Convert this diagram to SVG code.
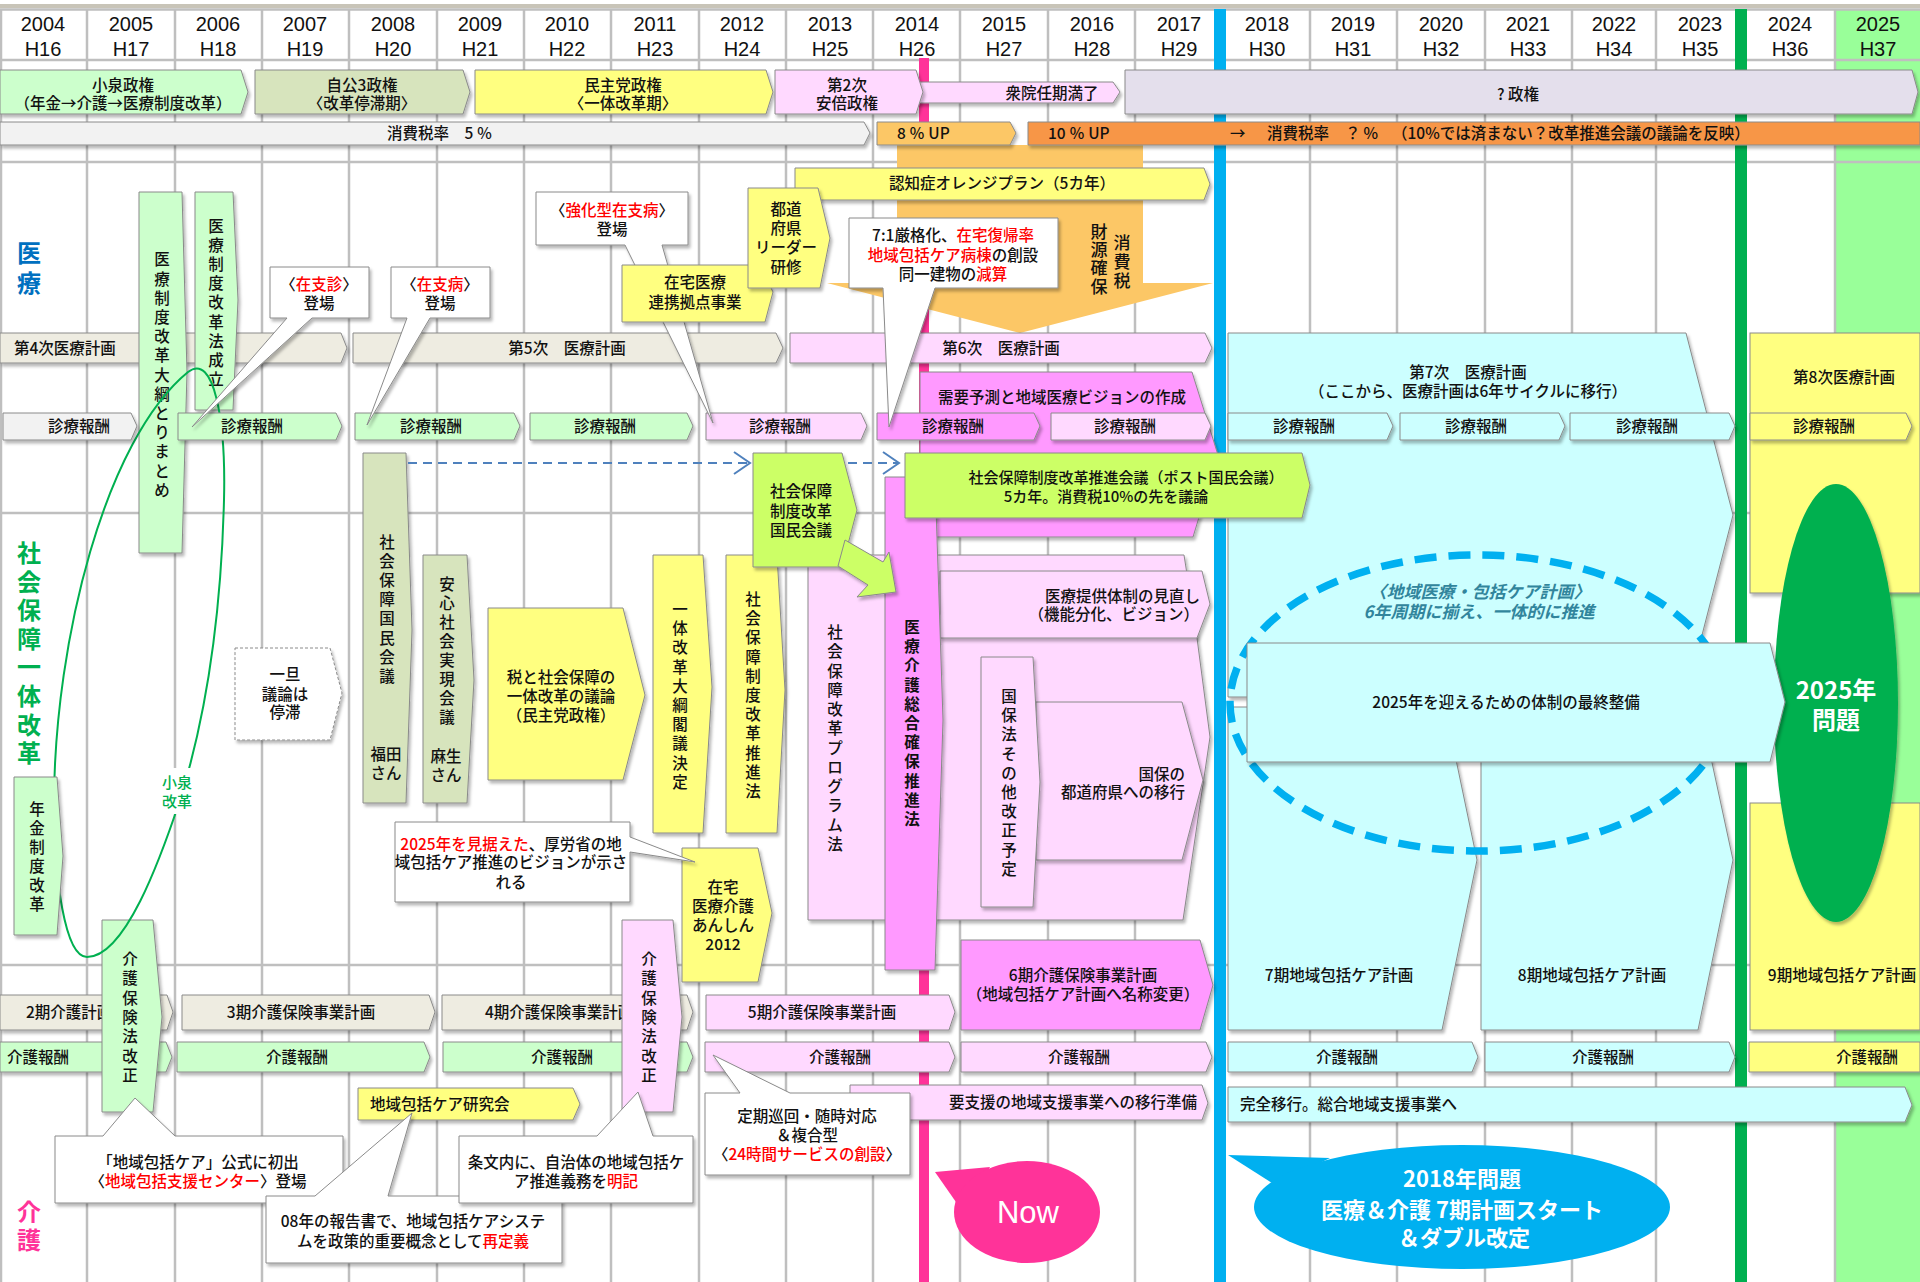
<svg xmlns="http://www.w3.org/2000/svg" width="1920" height="1282" viewBox="0 0 1920 1282">
<defs>
<filter id="sh" filterUnits="userSpaceOnUse" x="-10" y="-10" width="1950" height="1310">
<feDropShadow dx="2" dy="3" stdDeviation="1.6" flood-color="#000" flood-opacity="0.28"/>
</filter>
<marker id="ah" markerWidth="20" markerHeight="24" refX="17" refY="12" orient="auto" markerUnits="userSpaceOnUse">
<polyline points="1,1 17,12 1,23" fill="none" stroke="#4f81bd" stroke-width="2"/>
</marker>
</defs>
<style>
text { font-family: "Noto Sans CJK JP", "Noto Sans", sans-serif; font-size: 15.5px; font-weight: 500; fill: #111; }
.m { text-anchor: middle; }
.e { text-anchor: end; }
.red { fill: #ff0000; }
.yr { font-family: "Liberation Sans", Arial, sans-serif; font-size: 20px; font-weight: normal; text-anchor: middle; fill: #111; }
.b { stroke: #8a8a8a; stroke-width: 1; filter: url(#sh); }
.g { fill: #ccffcc; } .k { fill: #d7e4bd; } .bg { fill: #eeece1; } .lg { fill: #f2f2f2; }
.yl { fill: #ffff80; } .p { fill: #ffd9ff; } .mg { fill: #ff99ff; } .l { fill: #ccff66; }
.cy { fill: #ccffff; } .lv { fill: #e4dfec; } .w { fill: #ffffff; } .or { fill: #fcc766; }
.grid { stroke: #bfbfbf; stroke-width: 2.5; fill: none; }
.sec { font-size: 24px; font-weight: bold; text-anchor: middle; }
.wt { fill: #ffffff; font-weight: bold; text-anchor: middle; }
</style>

<rect x="0" y="0" width="1920" height="1282" fill="#ffffff"/>
<g id="grid">
<rect x="1835" y="9" width="85" height="1273" fill="#99ff99"/>
<line x1="0" y1="6" x2="1920" y2="6" stroke="#c8c4b8" stroke-width="4"/>
<path class="grid" d="M1 9V1282M87 9V1282M175 9V1282M262 9V1282M349 9V1282M437 9V1282M524 9V1282M611 9V1282M699 9V1282M786 9V1282M873 9V1282M960 9V1282M1048 9V1282M1135 9V1282M1222 9V1282M1310 9V1282M1397 9V1282M1485 9V1282M1572 9V1282M1656 9V1282M1741 9V1282M1835 9V1282"/>
<path class="grid" d="M0 9.5H1920M0 60H1920M0 162H1920M0 513H1920M0 965H1920"/>
</g>
<g id="header">
<text class="yr" x="43" y="31">2004</text><text class="yr" x="43" y="56">H16</text>
<text class="yr" x="131" y="31">2005</text><text class="yr" x="131" y="56">H17</text>
<text class="yr" x="218" y="31">2006</text><text class="yr" x="218" y="56">H18</text>
<text class="yr" x="305" y="31">2007</text><text class="yr" x="305" y="56">H19</text>
<text class="yr" x="393" y="31">2008</text><text class="yr" x="393" y="56">H20</text>
<text class="yr" x="480" y="31">2009</text><text class="yr" x="480" y="56">H21</text>
<text class="yr" x="567" y="31">2010</text><text class="yr" x="567" y="56">H22</text>
<text class="yr" x="655" y="31">2011</text><text class="yr" x="655" y="56">H23</text>
<text class="yr" x="742" y="31">2012</text><text class="yr" x="742" y="56">H24</text>
<text class="yr" x="830" y="31">2013</text><text class="yr" x="830" y="56">H25</text>
<text class="yr" x="917" y="31">2014</text><text class="yr" x="917" y="56">H26</text>
<text class="yr" x="1004" y="31">2015</text><text class="yr" x="1004" y="56">H27</text>
<text class="yr" x="1092" y="31">2016</text><text class="yr" x="1092" y="56">H28</text>
<text class="yr" x="1179" y="31">2017</text><text class="yr" x="1179" y="56">H29</text>
<text class="yr" x="1267" y="31">2018</text><text class="yr" x="1267" y="56">H30</text>
<text class="yr" x="1353" y="31">2019</text><text class="yr" x="1353" y="56">H31</text>
<text class="yr" x="1441" y="31">2020</text><text class="yr" x="1441" y="56">H32</text>
<text class="yr" x="1528" y="31">2021</text><text class="yr" x="1528" y="56">H33</text>
<text class="yr" x="1614" y="31">2022</text><text class="yr" x="1614" y="56">H34</text>
<text class="yr" x="1700" y="31">2023</text><text class="yr" x="1700" y="56">H35</text>
<text class="yr" x="1790" y="31">2024</text><text class="yr" x="1790" y="56">H36</text>
<text class="yr" x="1878" y="31">2025</text><text class="yr" x="1878" y="56">H37</text>
</g>
<g id="timelines">
<rect x="919" y="58" width="10" height="1224" fill="#ff3399"/>
<rect x="1214" y="9" width="12" height="1273" fill="#00b0f0"/>
<rect x="1735" y="9" width="12" height="1273" fill="#00b050"/>
</g>

<g id="n-koizumi"><polygon class="b g" points="0,70 241,70 248,92 241,114 0,114"/><text class="m" x="123" y="91">小泉政権</text><text class="m" x="123" y="109">（年金→介護→医療制度改革）</text></g>
<g id="n-jiko"><polygon class="b k" points="255,70 463,70 470,92 463,114 255,114"/><text class="m" x="362" y="91">自公3政権</text><text class="m" x="362" y="109">〈改革停滞期〉</text></g>
<g id="n-minshu"><polygon class="b yl" points="475,70 766,70 773,92 766,114 475,114"/><text class="m" x="623" y="91">民主党政権</text><text class="m" x="623" y="109">〈一体改革期〉</text></g>
<g id="n-shuin"><polygon class="b p" points="915,82 1113,82 1120,92 1113,103 915,103"/><text class="m" x="1052" y="99">衆院任期満了</text></g>
<g id="n-abe"><polygon class="b p" points="775,70 916,70 923,92 916,114 775,114"/><text class="m" x="847" y="91">第2次</text><text class="m" x="847" y="109">安倍政権</text></g>
<g id="n-q"><polygon class="b lv" points="1125,70 1912,70 1918,92 1912,114 1125,114"/><text x="1497" y="100">? 政権</text></g>

<g id="n-taxarrow"><polygon class="or" points="897,145 1143,145 1143,283 1213,283 1020,333 827,283 897,283"/></g>
<g id="n-tax5"><polygon class="b lg" points="0,122 864,122 870,133 864,145 0,145"/><text x="387" y="139">消費税率　5 ％</text></g>
<g id="n-tax8"><polygon class="b or" points="877,122 1010,122 1016,133 1010,145 877,145"/><text x="897" y="139">8 ％ UP</text></g>
<g id="n-tax10"><polygon class="b" fill="#f79646" points="1028,122 1920,122 1920,145 1028,145"/><text x="1048" y="139">10 ％ UP</text><text x="1230" y="139">→</text><text x="1267" y="139">消費税率</text><text x="1345" y="139">？</text><text x="1363" y="139">％</text><text x="1392" y="139">（10%では済まない？改革推進会議の議論を反映）</text></g>
<g id="n-orange"><polygon class="b yl" points="795,168 1204,168 1210,184 1204,200 795,200"/><text class="m" x="1002" y="189">認知症オレンジプラン（5カ年）</text></g>
<g id="n-zaigen"><text class="m" style="font-size:17px" x="1122 1122 1122" y="249 268 287">消費税</text><text class="m" style="font-size:17px" x="1099 1099 1099 1099" y="238 256 274 293">財源確保</text></g>

<g id="n-plan4"><polygon class="b bg" points="0,333 341,333 347,348 341,363 0,363"/><text x="14" y="354">第4次医療計画</text></g>
<g id="n-plan5"><polygon class="b bg" points="353,333 776,333 783,348 776,363 353,363"/><text class="m" x="567" y="354">第5次　医療計画</text></g>
<g id="n-plan6"><polygon class="b p" points="790,333 1205,333 1212,348 1205,363 790,363"/><text class="m" x="1001" y="354">第6次　医療計画</text></g>
<g id="n-plan7"><polygon class="b cy" points="1228,333 1686,333 1733,515 1686,697 1228,697"/><text class="m" x="1468" y="378">第7次　医療計画</text><text class="m" x="1468" y="397">（ここから、医療計画は6年サイクルに移行）</text></g>
<g id="n-plan8"><rect class="b yl" x="1750" y="333" width="170" height="260"/><text class="m" x="1844" y="383">第8次医療計画</text></g>
<g id="n-care7"><polygon class="b cy" points="1228,707 1445,707 1477,860 1442,1030 1228,1030"/><text class="m" x="1339" y="981">7期地域包括ケア計画</text></g>
<g id="n-care8"><polygon class="b cy" points="1481,707 1700,707 1733,860 1698,1030 1481,1030"/><text class="m" x="1592" y="981">8期地域包括ケア計画</text></g>
<g id="n-care9"><rect class="b yl" x="1750" y="803" width="170" height="227"/><text class="m" x="1842" y="981">9期地域包括ケア計画</text></g>
<g id="n-kaigo6"><polygon class="b mg" points="961,940 1200,940 1213,985 1200,1030 961,1030"/><text class="m" x="1083" y="981">6期介護保険事業計画</text><text class="m" x="1083" y="1000">（地域包括ケア計画へ名称変更）</text></g>
<g id="n-juyo"><polygon class="b mg" points="920,372 1192,372 1218,455 1193,537 920,537"/><text class="m" x="1062" y="403">需要予測と地域医療ビジョンの作成</text></g>

<g id="n-kaigo2"><polygon class="b bg" points="0,995 167,995 173,1012 167,1030 0,1030"/><text x="26" y="1018">2期介護計画</text></g>
<g id="n-kaigo3"><polygon class="b bg" points="182,995 429,995 435,1012 429,1030 182,1030"/><text class="m" x="301" y="1018">3期介護保険事業計画</text></g>
<g id="n-kaigo4"><polygon class="b bg" points="442,995 687,995 693,1012 687,1030 442,1030"/><text x="485" y="1018">4期介護保険事業計画</text></g>
<g id="n-kaigo5"><polygon class="b p" points="706,995 949,995 955,1012 949,1030 706,1030"/><text class="m" x="822" y="1018">5期介護保険事業計画</text></g>
<g id="n-kaigohoshu">
<polygon class="b g" points="0,1042 166,1042 172,1057 166,1072 0,1072"/><text x="7" y="1063">介護報酬</text>
<polygon class="b g" points="177,1042 424,1042 430,1057 424,1072 177,1072"/><text class="m" x="297" y="1063">介護報酬</text>
<polygon class="b g" points="443,1042 687,1042 693,1057 687,1072 443,1072"/><text class="m" x="562" y="1063">介護報酬</text>
<polygon class="b p" points="705,1042 949,1042 955,1057 949,1072 705,1072"/><text class="m" x="840" y="1063">介護報酬</text>
<polygon class="b p" points="961,1042 1206,1042 1212,1057 1206,1072 961,1072"/><text class="m" x="1079" y="1063">介護報酬</text>
<polygon class="b cy" points="1228,1042 1472,1042 1478,1057 1472,1072 1228,1072"/><text class="m" x="1347" y="1063">介護報酬</text>
<polygon class="b cy" points="1485,1042 1729,1042 1735,1057 1729,1072 1485,1072"/><text class="m" x="1603" y="1063">介護報酬</text>
<polygon class="b yl" points="1749,1042 1920,1042 1920,1072 1749,1072"/><text class="m" x="1867" y="1063">介護報酬</text>
</g>
<g id="n-kenkyu"><polygon class="b yl" points="358,1088 573,1088 580,1104 573,1120 358,1120"/><text x="370" y="1110">地域包括ケア研究会</text></g>
<g id="n-yoshien"><polygon class="b p" points="850,1085 1202,1085 1208,1103 1202,1120 850,1120"/><text class="e" x="1197" y="1108">要支援の地域支援事業への移行準備</text></g>
<g id="n-kanzen"><polygon class="b cy" points="1228,1087 1905,1087 1912,1105 1905,1122 1228,1122"/><text x="1240" y="1110">完全移行。総合地域支援事業へ</text></g>
<g id="n-kaigoho1"><polygon class="b g" points="102,920 153,920 162,1017 153,1112 102,1112"/><text class="m" x="130 130 130 130 130 130 130" y="965 984 1004 1023 1042 1062 1081">介護保険法改正</text></g>
<g id="n-kaigoho2"><polygon class="b p" points="622,920 673,920 682,1017 673,1112 622,1112"/><text class="m" x="649 649 649 649 649 649 649" y="965 984 1004 1023 1042 1062 1081">介護保険法改正</text></g>

<g id="n-taiko"><polygon class="b g" points="139,192 182,192 187,372 182,553 139,553"/><text class="m" x="162 162 162 162 162 162 162 162 162 162 162 162 162" y="265 285 304 323 342 361 381 400 419 438 457 477 496">医療制度改革大綱とりまとめ</text></g>
<g id="n-seiritsu"><polygon class="b g" points="195,192 233,192 238,300 233,410 195,410"/><text class="m" x="216 216 216 216 216 216 216 216 216" y="232 251 270 289 308 328 347 366 385">医療制度改革法成立</text></g>

<g id="n-kokumin08"><polygon class="b k" points="363,453 406,453 412,630 406,803 363,803"/><text class="m" x="387 387 387 387 387 387 387 387" y="548 567 586 605 624 644 663 682">社会保障国民会議</text><text class="m" x="386" y="760">福田</text><text class="m" x="386" y="779">さん</text></g>
<g id="n-anshin"><polygon class="b k" points="423,555 467,555 474,680 467,803 423,803"/><text class="m" x="447 447 447 447 447 447 447 447" y="590 609 628 647 666 685 704 723">安心社会実現会議</text><text class="m" x="446" y="762">麻生</text><text class="m" x="446" y="781">さん</text></g>
<g id="n-teitai"><polygon points="235,648 330,648 342,693 330,740 235,740" fill="#ffffff" stroke="#8a8a8a" stroke-width="1" stroke-dasharray="3 2" filter="url(#sh)"/><text class="m" x="285" y="680">一旦</text><text class="m" x="285" y="700">議論は</text><text class="m" x="285" y="718">停滞</text></g>
<g id="n-zei"><polygon class="b yl" points="488,608 623,608 645,695 623,780 488,780"/><text class="m" x="561" y="683">税と社会保障の</text><text class="m" x="561" y="702">一体改革の議論</text><text class="m" x="561" y="721">（民主党政権）</text></g>
<g id="n-ittai"><polygon class="b yl" points="653,555 703,555 712,687 703,833 653,833"/><text class="m" x="680 680 680 680 680 680 680 680 680 680" y="615 634 653 673 692 711 730 749 769 788">一体改革大綱閣議決定</text></g>
<g id="n-suishinho"><polygon class="b yl" points="726,555 777,555 785,690 777,833 726,833"/><text class="m" x="753 753 753 753 753 753 753 753 753 753 753" y="605 624 643 663 682 701 720 739 759 778 797">社会保障制度改革推進法</text></g>
<g id="n-program"><polygon class="b p" points="808,555 1184,555 1197,638 1210,737 1183,920 808,920"/><text class="m" x="835 835 835 835 835 835 835 835 835 835 835 835" y="638 657 677 696 715 734 754 773 792 811 831 850">社会保障改革プログラム法</text></g>
<g id="n-teikyo"><polygon class="b p" points="940,571 1202,571 1210,604 1197,638 940,638"/><text class="e" x="1200" y="602">医療提供体制の見直し</text><text class="e" x="1199" y="620">（機能分化、ビジョン）</text></g>
<g id="n-kokuho"><polygon class="b p" points="1036,702 1182,702 1203,780 1182,860 1036,860"/><text class="e" x="1185" y="780">国保の</text><text class="e" x="1185" y="798">都道府県への移行</text></g>
<g id="n-kokuhoho"><polygon class="b p" points="981,657 1033,657 1040,782 1033,907 981,907"/><text class="m" x="1009 1009 1009 1009 1009 1009 1009 1009 1009 1009" y="702 721 740 760 779 798 817 836 856 875">国保法その他改正予定</text></g>
<g id="n-sogo"><polygon class="b mg" points="885,477 935,477 943,720 935,970 885,970"/><text class="m" style="font-weight:bold" x="912 912 912 912 912 912 912 912 912 912 912" y="633 652 671 691 710 729 748 767 787 806 825">医療介護総合確保推進法</text></g>
<g id="n-suishinkaigi"><polygon class="b l" points="905,453 1302,453 1310,485 1302,518 905,518"/><text class="m" style="font-size:15px" x="1126" y="483">社会保障制度改革推進会議（ポスト国民会議）</text><text class="m" style="font-size:15px" x="1106" y="502">5カ年。消費税10%の先を議論</text></g>
<g id="connectors">
<line x1="408" y1="463" x2="750" y2="463" stroke="#4f81bd" stroke-width="2" stroke-dasharray="9 6" marker-end="url(#ah)"/>
</g>
<g id="n-kokumin13"><polygon class="b l" points="753,453 842,453 857,510 842,567 753,567"/><text class="m" x="801" y="497">社会保障</text><text class="m" x="801" y="517">制度改革</text><text class="m" x="801" y="536">国民会議</text></g>
<g id="connectors2">
<line x1="848" y1="463" x2="899" y2="463" stroke="#4f81bd" stroke-width="2" stroke-dasharray="9 6" marker-end="url(#ah)"/>
<polygon class="b l" points="845,540 883,562 889,552 896,592 857,597 868,585 838,566"/>
</g>
<g id="n-anshin2012"><polygon class="b yl" points="682,848 758,848 772,913 758,982 682,982"/><text class="m" x="723" y="893">在宅</text><text class="m" x="723" y="912">医療介護</text><text class="m" x="723" y="931">あんしん</text><text class="m" x="723" y="950">2012</text></g>

<g id="n-koizumikaikaku">
<path d="M87,957 C65,957 54,880 54,800 C55,640 105,440 188,372 C214,352 226,420 224,500 C221,620 205,720 180,800 C160,860 125,957 87,957 Z" fill="none" stroke="#00b050" stroke-width="2"/>
<rect x="160" y="768" width="36" height="46" fill="#ffffff"/>
<text class="m" style="font-size:15px;fill:#00b050" x="177" y="788">小泉</text><text class="m" style="font-size:15px;fill:#00b050" x="177" y="807">改革</text>
</g>

<g id="n-shinryohoshu">
<polygon class="b lg" points="3,413 131,413 137,426 131,440 3,440"/><text class="m" x="79" y="432">診療報酬</text>
<polygon class="b g" points="178,413 336,413 342,426 336,440 178,440"/><text class="m" x="252" y="432">診療報酬</text>
<polygon class="b g" points="355,413 514,413 520,426 514,440 355,440"/><text class="m" x="431" y="432">診療報酬</text>
<polygon class="b g" points="530,413 687,413 693,426 687,440 530,440"/><text class="m" x="605" y="432">診療報酬</text>
<polygon class="b p" points="706,413 861,413 867,426 861,440 706,440"/><text class="m" x="780" y="432">診療報酬</text>
<polygon class="b mg" points="877,413 1034,413 1040,426 1034,440 877,440"/><text class="m" x="953" y="432">診療報酬</text>
<polygon class="b p" points="1051,413 1205,413 1211,426 1205,440 1051,440"/><text class="m" x="1125" y="432">診療報酬</text>
<polygon class="b cy" points="1228,413 1387,413 1393,426 1387,440 1228,440"/><text class="m" x="1304" y="432">診療報酬</text>
<polygon class="b cy" points="1400,413 1559,413 1565,426 1559,440 1400,440"/><text class="m" x="1476" y="432">診療報酬</text>
<polygon class="b cy" points="1570,413 1729,413 1735,426 1729,440 1570,440"/><text class="m" x="1647" y="432">診療報酬</text>
<polygon class="b yl" points="1750,413 1906,413 1912,426 1906,440 1750,440"/><text class="m" x="1824" y="432">診療報酬</text>
</g>
<g id="n-nenkin"><polygon class="b g" points="14,777 57,777 63,856 57,935 14,935"/><text class="m" x="37 37 37 37 37 37" y="815 834 853 872 891 910">年金制度改革</text></g>

<g id="n-chiikikeikaku">
<ellipse cx="1478" cy="703" rx="248" ry="148" fill="none" stroke="#00b0f0" stroke-width="7.5" stroke-dasharray="22 12"/>
<text class="m" style="font-size:17px;font-weight:bold;font-style:italic;fill:#31859c" x="1480" y="598">〈地域医療・包括ケア計画〉</text>
<text class="m" style="font-size:17px;font-weight:bold;font-style:italic;fill:#31859c" x="1479" y="618">6年周期に揃え、一体的に推進</text>
</g>
<g id="n-2025mondai"><ellipse cx="1836" cy="703" rx="62" ry="219" fill="#00b050" filter="url(#sh)"/><text class="wt" style="font-size:24px" x="1836" y="699">2025年</text><text class="wt" style="font-size:24px" x="1836" y="729">問題</text></g>
<g id="n-2025seibi"><polygon class="b cy" points="1247,643 1770,643 1785,702 1770,762 1247,762"/><text class="m" x="1506" y="708">2025年を迎えるための体制の最終整備</text></g>

<g id="n-zaishishin"><path class="b w" d="M270,267H369V318H312L192,427L287,318H270Z"/><text class="m" x="319" y="290">〈<tspan class="red">在支診</tspan>〉</text><text class="m" x="319" y="309">登場</text></g>
<g id="n-zaishibyo"><path class="b w" d="M391,267H490V318H430L367,425L407,318H391Z"/><text class="m" x="440" y="290">〈<tspan class="red">在支病</tspan>〉</text><text class="m" x="440" y="309">登場</text></g>
<g id="n-kyoka"><path class="b w" d="M536,192H688V245H662L713,423L625,245H536Z"/><text class="m" x="612" y="216">〈<tspan class="red">強化型在支病</tspan>〉</text><text class="m" x="612" y="235">登場</text></g>
<g id="n-renkei"><polygon class="b yl" points="622,265 760,265 773,292 765,322 622,322"/><text class="m" x="695" y="288">在宅医療</text><text class="m" x="695" y="308">連携拠点事業</text></g>
<g id="n-leader"><polygon class="b yl" points="748,188 818,188 830,238 820,288 748,288"/><text class="m" x="786" y="215">都道</text><text class="m" x="786" y="234">府県</text><text class="m" x="786" y="253">リーダー</text><text class="m" x="786" y="273">研修</text></g>
<g id="n-71"><path class="b w" d="M849,218H1058V288H935L889,427L883,288H849Z"/><text class="m" x="953" y="241">7:1厳格化、<tspan class="red">在宅復帰率</tspan></text><text class="m" x="953" y="261"><tspan class="red">地域包括ケア病棟</tspan>の創設</text><text class="m" x="953" y="280">同一建物の<tspan class="red">減算</tspan></text></g>

<g id="n-vision"><path class="b w" d="M395,822H630V837L695,862L630,852V902H395Z"/><text class="m" x="511" y="850"><tspan class="red">2025年を見据えた</tspan>、厚労省の地</text><text class="m" x="511" y="868">域包括ケア推進のビジョンが示さ</text><text class="m" x="511" y="888">れる</text></g>
<g id="n-c1"><path class="b w" d="M55,1136H103L135,1098L175,1136H343V1203H55Z"/><text class="m" x="198" y="1168">「地域包括ケア」公式に初出</text><text class="m" x="198" y="1187">〈<tspan class="red">地域包括支援センター</tspan>〉登場</text></g>
<g id="n-c2"><path class="b w" d="M266,1196H315L412,1113L388,1196H562V1263H266Z"/><text class="m" x="413" y="1227">08年の報告書で、地域包括ケアシステ</text><text class="m" x="413" y="1247">ムを政策的重要概念として<tspan class="red">再定義</tspan></text></g>
<g id="n-c3"><path class="b w" d="M459,1136H597L638,1092L653,1136H693V1203H459Z"/><text class="m" x="576" y="1168">条文内に、自治体の地域包括ケ</text><text class="m" x="576" y="1187">ア推進義務を<tspan class="red">明記</tspan></text></g>
<g id="n-c4"><path class="b w" d="M705,1093H740L713,1055L790,1093H910V1175H705Z"/><text class="m" x="807" y="1122">定期巡回・随時対応</text><text class="m" x="807" y="1141">＆複合型</text><text class="m" x="807" y="1160">〈<tspan class="red">24時間サービスの創設</tspan>〉</text></g>

<g id="n-now"><polygon points="935,1172 990,1167 965,1215" fill="#ff3399"/><ellipse cx="1027" cy="1212" rx="73" ry="51" fill="#ff3399"/><text x="1028" y="1223" style="font-family:'Liberation Sans',Arial,sans-serif;font-size:31px;font-weight:normal;fill:#ffffff;text-anchor:middle">Now</text></g>
<g id="n-2018"><polygon points="1228,1155 1330,1158 1275,1185" fill="#00b0f0"/><ellipse cx="1462" cy="1207" rx="208" ry="62" fill="#00b0f0"/><text class="wt" style="font-size:22px" x="1462" y="1187">2018年問題</text><text class="wt" style="font-size:22px" x="1462" y="1218">医療＆介護 7期計画スタート</text><text class="wt" style="font-size:22px" x="1464" y="1246">＆ダブル改定</text></g>

<g id="labels">
<text class="sec" style="fill:#0070c0" x="29 29" y="262 292">医療</text>
<text class="sec" style="fill:#00b050" x="29 29 29 29 29 29 29 29" y="562 591 619 648 676 705 734 762">社会保障一体改革</text>
<text class="sec" style="fill:#ff3399" x="29 29" y="1221 1249">介護</text>
</g>
</svg>
